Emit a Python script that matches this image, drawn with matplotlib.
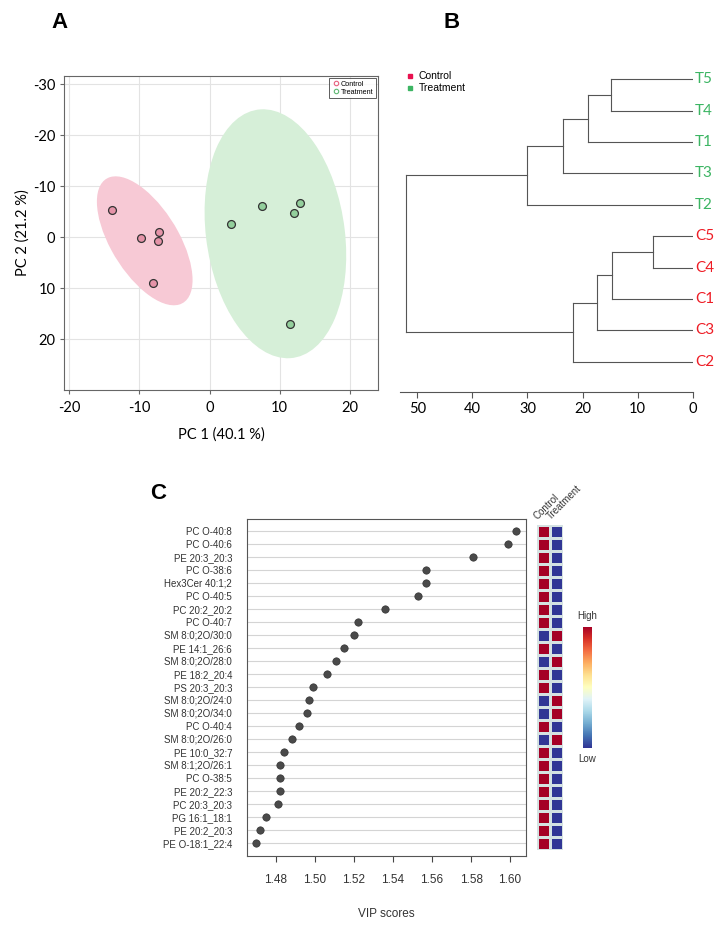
import numpy as np
import matplotlib
matplotlib.use("Agg")
import matplotlib.pyplot as plt
from matplotlib.patches import Ellipse
from matplotlib.lines import Line2D

# ── data ──────────────────────────────────────────────────────────
# panel A: PCA scores
ctrl_pc1 = [-13.9, -9.7, -7.2, -7.4, -8.0]
ctrl_pc2 = [-5.3, 0.1, -1.0, 0.7, 8.9]
trt_pc1 = [3.0, 7.5, 12.0, 12.9, 11.5]
trt_pc2 = [-2.7, -6.2, -4.8, -6.7, 16.9]

# panel B: dendrogram, leaves top to bottom, merges (a, b, height)
leaf_names = ["T5", "T4", "T1", "T3", "T2", "C5", "C4", "C1", "C3", "C2"]
merges = [
    ("T5", "T4", 14.8), ("n0", "T1", 19.1), ("n1", "T3", 23.5), ("n2", "T2", 30.1),
    ("C5", "C4", 7.2), ("n4", "C1", 14.7), ("n5", "C3", 17.3), ("n6", "C2", 21.7),
    ("n3", "n7", 52.1),
]

# panel C: VIP scores + group levels (1 = high)
lipids = ["PC O-40:8", "PC O-40:6", "PE 20:3_20:3", "PC O-38:6", "Hex3Cer 40:1;2",
          "PC O-40:5", "PC 20:2_20:2", "PC O-40:7", "SM 8:0;2O/30:0", "PE 14:1_26:6",
          "SM 8:0;2O/28:0", "PE 18:2_20:4", "PS 20:3_20:3", "SM 8:0;2O/24:0",
          "SM 8:0;2O/34:0", "PC O-40:4", "SM 8:0;2O/26:0", "PE 10:0_32:7",
          "SM 8:1;2O/26:1", "PC O-38:5", "PE 20:2_22:3", "PC 20:3_20:3",
          "PG 16:1_18:1", "PE 20:2_20:3", "PE O-18:1_22:4"]
vip = [1.603, 1.599, 1.581, 1.557, 1.557, 1.553, 1.536, 1.522, 1.520, 1.515,
       1.511, 1.506, 1.499, 1.497, 1.496, 1.492, 1.488, 1.484, 1.482, 1.482,
       1.482, 1.481, 1.475, 1.472, 1.470]
ctrl_high = [1, 1, 1, 1, 1, 1, 1, 1, 0, 1, 0, 1, 1, 0, 0, 1, 0, 1, 1, 1, 1, 1, 1, 1, 1]

plt.rcParams['font.family'] = ['Liberation Sans', 'DejaVu Sans']
plt.rcParams['axes.unicode_minus'] = False
W, H = 724, 927
fig = plt.figure(figsize=(W / 100, H / 100), dpi=100)

def box(x0, y0, x1, y1):
    return [x0 / W, 1 - y1 / H, (x1 - x0) / W, (y1 - y0) / H]

# ── Panel A ───────────────────────────────────────────────────────
axA = fig.add_axes(box(64.3, 76, 378, 390))
ab_font = 'Lato'
groups = [(ctrl_pc1, ctrl_pc2, '#f7c9d5', '#e593a8', '#e8607e', 'Control'),
          (trt_pc1, trt_pc2, '#d6efd8', '#93cf9c', '#5fb873', 'Treatment')]
scale = np.sqrt(-2 * np.log(0.05))
for xs, ys, efc, pfc, lc, name in groups:
    pts = np.column_stack([xs, ys])
    mu = pts.mean(axis=0)
    cov = np.cov(pts.T)
    vals, vecs = np.linalg.eigh(cov)
    ang = np.degrees(np.arctan2(vecs[1, 1], vecs[0, 1]))
    e = Ellipse(mu, 2 * scale * np.sqrt(vals[1]), 2 * scale * np.sqrt(vals[0]),
                angle=ang, facecolor=efc, edgecolor='none', zorder=1)
    axA.add_patch(e)
    axA.scatter(xs, ys, s=32, facecolor=pfc, edgecolor='#333333', linewidth=0.9, zorder=3)
axA.set_xlim(-20.7, 24)
axA.set_ylim(29.9, -31.6)
axA.set_xticks([-20, -10, 0, 10, 20])
axA.set_yticks([-30, -20, -10, 0, 10, 20])
axA.grid(True, color='#e3e3e3', linewidth=0.8)
axA.set_axisbelow(True)
for s in axA.spines.values():
    s.set_color('#666666')
axA.tick_params(colors='#666666', labelcolor='black', labelsize=10.5, length=3)
axA.tick_params(axis='x', pad=5)
for t in axA.get_xticklabels() + axA.get_yticklabels():
    t.set_fontfamily(ab_font)
axA.set_xlabel('PC 1 (40.1 %)', fontsize=10.5, family=ab_font, labelpad=9)
axA.set_ylabel('PC 2 (21.2 %)', fontsize=10.5, family=ab_font, labelpad=2)
hA = [Line2D([], [], marker='o', ls='none', mfc='none', mec=g[4], ms=3.2, mew=0.8) for g in groups]
legA = axA.legend(hA, [g[5] for g in groups], loc='upper right', fontsize=5.2,
                  frameon=True, fancybox=False, handletextpad=0.2, borderpad=0.35,
                  labelspacing=0.15, handlelength=1.0, borderaxespad=0.3)
legA.get_frame().set_edgecolor('#333333')
legA.get_frame().set_linewidth(0.7)

# ── Panel B ───────────────────────────────────────────────────────
axB = fig.add_axes(box(400, 60, 692.7, 391.7))
pos = {n: i for i, n in enumerate(leaf_names)}
hgt = {n: 0.0 for n in leaf_names}
for k, (a, b, h) in enumerate(merges):
    for c in (a, b):
        axB.plot([hgt[c], h], [pos[c], pos[c]], color='#555555', lw=0.8)
    axB.plot([h, h], [pos[a], pos[b]], color='#555555', lw=0.8)
    pos['n%d' % k] = (pos[a] + pos[b]) / 2
    hgt['n%d' % k] = h
axB.set_xlim(53.15, 0)
axB.set_ylim(9.956, -0.615)
for n in leaf_names:
    col = '#3cb563' if n.startswith('T') else '#ee1c25'
    axB.text(-0.4, pos[n], n, color=col, fontsize=11, family=ab_font,
             va='center', ha='left', clip_on=False)
for s in ['top', 'right', 'left']:
    axB.spines[s].set_visible(False)
axB.spines['bottom'].set_color('#555555')
axB.set_yticks([])
axB.set_xticks([50, 40, 30, 20, 10, 0])
axB.tick_params(axis='x', colors='#555555', labelcolor='black', labelsize=10.5, length=4)
for t in axB.get_xticklabels():
    t.set_fontfamily(ab_font)
hB = [Line2D([], [], marker='s', ls='none', color=c, ms=3.5) for c in ['#e8114f', '#3cb563']]
axB.legend(hB, ['Control', 'Treatment'], loc='upper left', bbox_to_anchor=(0.0, 0.985),
           fontsize=7.5, frameon=False, handletextpad=0.4, labelspacing=0.2,
           handlelength=0.8, borderaxespad=0.2)

# ── Panel C ───────────────────────────────────────────────────────
rows = np.arange(1, len(lipids) + 1)
axC = fig.add_axes(box(246.7, 519, 525.7, 856))
axC.scatter(vip, rows, s=28, color='#4a4a4a', edgecolor='#333333', linewidth=0.5, zorder=3)
for r in rows:
    axC.axhline(r, color='#d4d4d4', lw=0.8, zorder=1)
axC.set_xlim(1.465, 1.608)
axC.set_ylim(26.0, 0.08)
axC.set_yticks(rows)
axC.set_yticklabels(lipids, fontsize=7, color='#333333')
axC.tick_params(axis='y', length=0, pad=10.5)
ticks_c = [1.48, 1.50, 1.52, 1.54, 1.56, 1.58, 1.60]
axC.set_xticks(ticks_c)
axC.set_xticklabels(['%.2f' % v for v in ticks_c])
axC.tick_params(axis='x', labelsize=8.5, colors='#444444', labelcolor='#333333', length=4, pad=9)
for s in axC.spines.values():
    s.set_color('#555555')
axC.set_xlabel('VIP scores', fontsize=8.5, color='#333333', labelpad=16)

# heatmap
axH = fig.add_axes(box(536.7, 524.5, 562.5, 849.5))
hm = np.column_stack([ctrl_high, 1 - np.array(ctrl_high)])
axH.pcolormesh(np.arange(3) + 0.5, np.arange(len(lipids) + 1) + 0.5, hm,
               cmap='RdYlBu_r', vmin=0, vmax=1, edgecolors='#d5e2e2', linewidth=1.0)
axH.set_xlim(0.5, 2.5)
axH.set_ylim(len(lipids) + 0.5, 0.5)
axH.axis('off')
for i, lab in enumerate(['Control', 'Treatment']):
    axH.text(i + 0.7, 0.3, lab, rotation=45, fontsize=7, ha='left', va='bottom',
             rotation_mode='anchor', color='#333333')

# colorbar
axCB = fig.add_axes(box(583, 627, 592, 748))
axCB.imshow(np.linspace(1, 0, 200)[:, None], aspect='auto', cmap='RdYlBu_r')
axCB.axis('off')
fig.text(587.5 / W, 1 - 616 / H, 'High', fontsize=7, ha='center', va='center', color='#333333')
fig.text(587.5 / W, 1 - 759 / H, 'Low', fontsize=7, ha='center', va='center', color='#333333')

# panel letters
for lab, x, y in [('A', 60, 22), ('B', 452, 22), ('C', 158, 493)]:
    fig.text(x / W, 1 - y / H, lab, fontsize=16, fontweight='bold', ha='center', va='center')

fig.savefig('out.png', dpi=100)
